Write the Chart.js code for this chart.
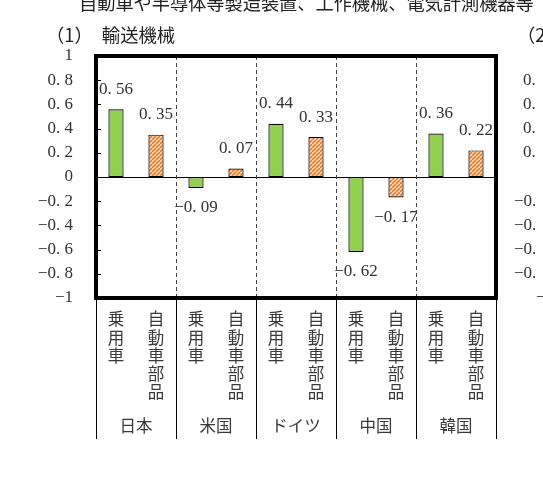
<!DOCTYPE html>
<html><head><meta charset="utf-8">
<script src="https://cdn.jsdelivr.net/npm/chart.js@4.4.0/dist/chart.umd.min.js"></script>
<style>html,body{margin:0;padding:0;background:#fff;}canvas{display:block}</style>
</head><body>
<canvas id="c" width="543" height="482" style="width:543px;height:482px"></canvas>
<script>
// ---- data ----
const mainTitle = '自動車や半導体等製造装置、工作機械、電気計測機器等';
const panelTitle = '（1）\u2002輸送機械';
const nextPanelTitle = '（2）';
const countries = ['日本', '米国', 'ドイツ', '中国', '韓国'];
const items = ['乗用車', '自動車部品'];
const passengerCars = [0.56, -0.09, 0.44, -0.62, 0.36];
const autoParts = [0.35, 0.07, 0.33, -0.17, 0.22];
const yMin = -1, yMax = 1, yStep = 0.2;
// visible fragments of the neighbouring panel's tick labels (clipped at the right edge)
const nextPanelTickValues = [0.8, 0.6, 0.4, 0.2, -0.2, -0.4, -0.6, -0.8, -1];
const nextPanelTickTexts = ['0.', '0.', '0.', '0.', '−0.', '−0.', '−0.', '−0.', '−'];

// ---- helpers ----
function fmtTick(v) {
  const r = Math.round(v * 10) / 10;
  if (Number.isInteger(r)) return (r < 0 ? '−' : '') + Math.abs(r);
  return (r < 0 ? '−' : '') + Math.abs(r).toFixed(1).replace('.', '. ');
}
function fmtVal(v) {
  return (v < 0 ? '−' : '') + Math.abs(v).toFixed(2).replace('.', '. ');
}
function hatch() {
  const s = 4;
  const c = document.createElement('canvas'); c.width = s; c.height = s;
  const g = c.getContext('2d');
  g.fillStyle = '#fde6d0'; g.fillRect(0, 0, s, s);
  g.strokeStyle = '#e8772a'; g.lineWidth = 1.6;
  g.beginPath();
  for (let k = -1; k <= 1; k++) { g.moveTo(k * s, s); g.lineTo(k * s + s, 0); }
  g.stroke();
  return g.createPattern(c, 'repeat');
}
const serif = '"Liberation Serif", "DejaVu Serif", serif';
const cjk = '"Noto Sans CJK JP", sans-serif';

const deco = {
  id: 'deco',
  beforeDatasetsDraw(chart) {
    const { ctx, chartArea: a, scales: { x, y } } = chart;
    ctx.save();
    const y0 = Math.round(y.getPixelForValue(0)) + 0.5;
    ctx.strokeStyle = '#000'; ctx.lineWidth = 1;
    ctx.beginPath(); ctx.moveTo(a.left, y0); ctx.lineTo(a.right, y0); ctx.stroke();
    ctx.setLineDash([4, 3]); ctx.strokeStyle = '#444';
    for (let i = 1; i < countries.length; i++) {
      const xs = Math.round((x.getPixelForValue(i - 1) + x.getPixelForValue(i)) / 2) + 0.5;
      ctx.beginPath(); ctx.moveTo(xs, a.top); ctx.lineTo(xs, a.bottom); ctx.stroke();
    }
    ctx.restore();
  },
  afterDatasetsDraw(chart) {
    const { ctx, chartArea: a, scales: { x, y } } = chart;
    ctx.save();
    ctx.strokeStyle = '#000'; ctx.lineWidth = 1;
    const bounds = [a.left];
    for (let i = 1; i < countries.length; i++) bounds.push((x.getPixelForValue(i - 1) + x.getPixelForValue(i)) / 2);
    bounds.push(a.right);
    bounds.forEach(b => {
      const xb = Math.round(b) + 0.5;
      ctx.beginPath(); ctx.moveTo(xb, a.bottom); ctx.lineTo(xb, 439); ctx.stroke();
    });
    y.ticks.forEach(t => {
      const yy = Math.round(y.getPixelForValue(t.value)) + 0.5;
      ctx.beginPath(); ctx.moveTo(a.left, yy); ctx.lineTo(a.left + 5, yy); ctx.stroke();
    });
    ctx.lineWidth = 4;
    ctx.strokeRect(a.left, a.top, a.right - a.left, a.bottom - a.top);

    // data labels
    ctx.fillStyle = '#333';
    ctx.font = '17px ' + serif;
    ctx.textAlign = 'center'; ctx.textBaseline = 'middle';
    chart.data.datasets.forEach((ds, di) => {
      const meta = chart.getDatasetMeta(di);
      meta.data.forEach((bar, i) => {
        const v = ds.data[i];
        ctx.fillText(fmtVal(v), bar.x, v >= 0 ? bar.y - 20 : bar.y + 20);
      });
    });

    // vertical item labels
    ctx.font = '16.5px ' + cjk;
    ctx.fillStyle = '#3a3a3a';
    chart.data.datasets.forEach((ds, di) => {
      const meta = chart.getDatasetMeta(di);
      const chars = Array.from(items[di]);
      meta.data.forEach(bar => {
        chars.forEach((ch, k) => ctx.fillText(ch, bar.x, 319 + k * 18.3));
      });
    });
    ctx.font = '16.5px ' + cjk;
    countries.forEach((c, i) => ctx.fillText(c, x.getPixelForValue(i), 426));

    // titles
    ctx.fillStyle = '#222';
    ctx.textAlign = 'left';
    ctx.font = '18.2px ' + cjk;
    ctx.fillText(mainTitle, 79, 3);
    ctx.font = '18.3px ' + cjk;
    ctx.fillText(panelTitle, 46, 35);
    ctx.fillText(nextPanelTitle, 517, 35);

    // clipped tick labels of the next panel
    ctx.fillStyle = '#333';
    ctx.font = '17px ' + serif;
    nextPanelTickValues.forEach((v, i) => {
      const t = nextPanelTickTexts[i];
      const xx = t === '−' ? 536 : (t.startsWith('−') ? 514 : 523);
      ctx.fillText(t, xx, y.getPixelForValue(v));
    });
    ctx.restore();
  }
};

new Chart(document.getElementById('c'), {
  type: 'bar',
  data: {
    labels: countries,
    datasets: [
      { label: items[0], data: passengerCars, backgroundColor: '#92d050', borderColor: '#000', borderWidth: 1.2,
        borderSkipped: false, barPercentage: 0.38, categoryPercentage: 1 },
      { label: items[1], data: autoParts, backgroundColor: hatch(), borderColor: '#000', borderWidth: 1.2,
        borderSkipped: false, barPercentage: 0.38, categoryPercentage: 1 }
    ]
  },
  options: {
    responsive: false,
    animation: false,
    devicePixelRatio: 1,
    layout: { padding: { top: 56, bottom: 184, right: 47, left: 0 } },
    plugins: { legend: { display: false }, tooltip: { enabled: false }, title: { display: false } },
    scales: {
      x: { display: false },
      y: {
        min: yMin, max: yMax,
        ticks: { stepSize: yStep, padding: 15, color: '#333', font: { family: serif, size: 17 }, callback: v => fmtTick(v) },
        grid: { display: false },
        border: { display: false },
        afterFit(s) { s.width = 96; }
      }
    }
  },
  plugins: [deco]
});
</script>
</body></html>
